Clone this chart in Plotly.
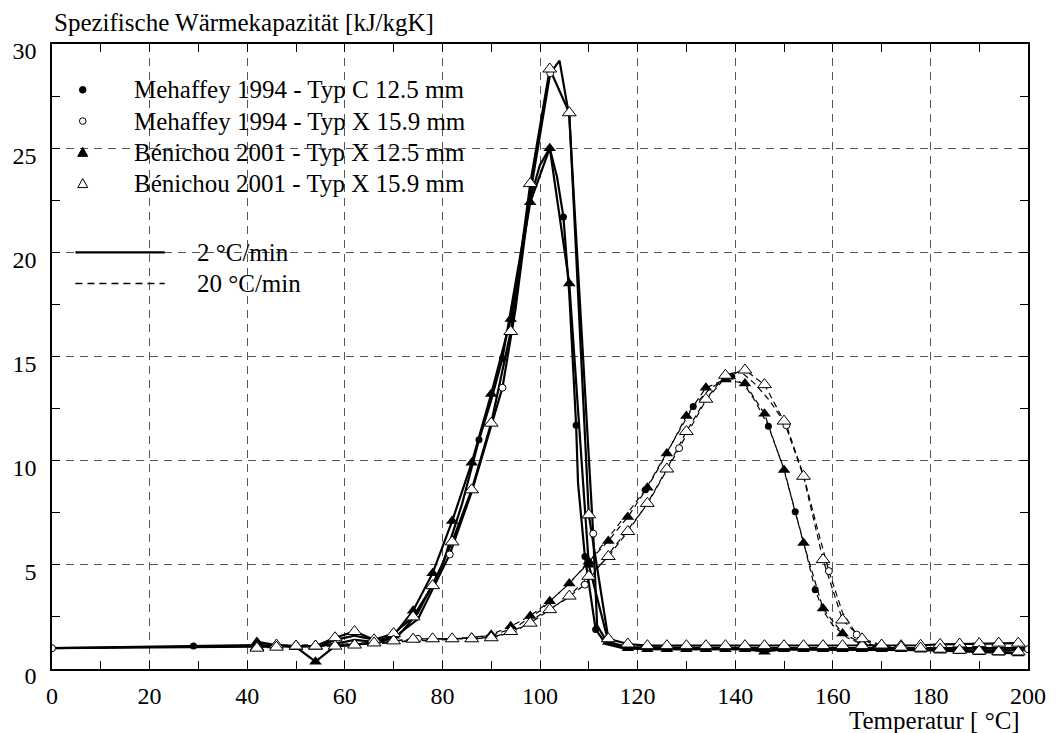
import plotly.graph_objects as go

# ---------------- data ----------------
# Benichou 2001: one point every 4 °C
ben_T = [42, 46, 50, 54, 58, 62, 66, 70, 74, 78, 82, 86, 90, 94, 98, 102, 106, 110, 114, 118,
         122, 126, 130, 134, 138, 142, 146, 150, 154, 158, 162, 166, 170, 174, 178, 182, 186, 190, 194, 198]
ben_x125_2 = [1.3, 1.15, 1.05, 0.35, 1.1, 1.15, 1.3, 1.6, 2.8, 4.6, 7.1, 9.9, 13.2, 16.8, 22.4, 25.0, 18.5, 5.0, 1.3, 1.0,
              0.95, 0.95, 0.95, 0.95, 0.95, 0.95, 0.83, 0.95, 0.95, 0.95, 0.95, 0.95, 0.95, 0.95, 0.92, 0.88, 0.85, 0.8, 0.78, 0.75]
ben_x159_2 = [1.05, 1.15, 1.1, 1.1, 1.5, 1.8, 1.4, 1.7, 2.5, 4.0, 6.1, 8.6, 11.8, 16.2, 23.3, 28.8, 26.7, 7.4, 1.45, 1.2,
              1.12, 1.12, 1.12, 1.12, 1.12, 1.12, 1.12, 1.12, 1.12, 1.12, 1.12, 1.12, 1.12, 1.12, 1.14, 1.18, 1.2, 1.22, 1.24, 1.24]
ben_x125_20 = [1.2, 1.1, 1.1, 1.1, 1.15, 1.2, 1.3, 1.35, 1.45, 1.45, 1.45, 1.5, 1.65, 2.05, 2.55, 3.25, 4.1, 5.15, 6.15, 7.3,
               8.7, 10.35, 12.15, 13.5, 13.9, 13.7, 12.25, 9.55, 6.05, 2.9, 1.7, 1.25, 1.05, 1.0, 0.95, 0.92, 0.88, 0.85, 0.82, 0.8]
ben_x159_20 = [1.0, 1.05, 1.1, 1.1, 1.1, 1.15, 1.25, 1.35, 1.43, 1.45, 1.45, 1.45, 1.5, 1.8, 2.2, 2.85, 3.5, 4.45, 5.4, 6.6,
               7.95, 9.6, 11.4, 12.95, 14.1, 14.35, 13.65, 11.9, 9.25, 5.25, 2.35, 1.45, 1.15, 1.05, 1.0, 0.95, 0.9, 0.86, 0.83, 0.82]

# Mehaffey 1994: curve points, markers only at some of them
meh_c2_T = [0, 29, 42, 50, 55, 58, 62, 65, 68, 71, 75, 80, 84, 87.5, 90, 92.3, 95, 98, 100, 102,
            103.5, 104.8, 106, 107.4, 107.8, 109.2, 111.4, 113.5, 117, 125, 140, 160, 180, 200]
meh_c2_cp = [1.0, 1.1, 1.15, 1.1, 1.1, 1.4, 1.6, 1.45, 1.35, 1.6, 2.7, 5.0, 7.9, 11.0, 12.9, 14.9, 18.5, 22.6, 24.2, 25.0,
             23.6, 21.7, 18.0, 11.7, 8.9, 5.4, 1.9, 1.2, 1.0, 0.95, 0.95, 0.92, 0.9, 0.9]
meh_c2_mk = [29, 87.5, 92.3, 104.8, 107.4, 109.2, 111.4]

meh_x2_T = [0, 29, 42, 55, 60, 62, 66, 70, 75, 81.5, 86, 90, 92.3, 95, 98, 102.1, 104, 106, 108.7, 110.9,
            111.7, 113.7, 118, 130, 150, 170, 200]
meh_x2_cp = [1.0, 1.05, 1.1, 1.1, 1.3, 1.4, 1.3, 1.5, 2.4, 5.5, 8.5, 11.6, 13.5, 17.3, 22.8, 28.6, 29.2, 26.5, 15.8, 6.5,
             2.1, 1.3, 1.05, 1.0, 1.0, 1.0, 1.0]
meh_x2_mk = [0, 81.5, 92.3, 102.1, 110.9]

meh_c20_T = [0, 29, 42, 60, 70, 80, 90, 95, 100, 105, 109.2, 115, 121.6, 126, 131.4, 135, 139.3, 142, 144, 146.8,
             150, 152.3, 154, 156.4, 158, 160, 163, 166, 170, 180, 200]
meh_c20_cp = [1.0, 1.05, 1.1, 1.2, 1.3, 1.4, 1.6, 2.0, 2.8, 3.9, 4.9, 6.6, 8.6, 10.4, 12.6, 13.5, 14.05, 13.6, 12.9, 11.65,
              9.6, 7.55, 6.1, 3.8, 2.8, 2.1, 1.5, 1.2, 1.0, 0.95, 0.9]
meh_c20_mk = [121.6, 131.4, 139.3, 146.8, 152.3, 156.4]

meh_x20_T = [0, 29, 42, 60, 70, 75, 80, 90, 95, 100, 105, 109.2, 115, 122, 128.5, 134, 138, 141, 144, 147,
             150.5, 154, 157, 159.2, 162, 164.9, 168, 175, 200]
meh_x20_cp = [1.0, 1.05, 1.1, 1.15, 1.25, 1.45, 1.45, 1.5, 1.8, 2.6, 3.3, 4.05, 5.8, 7.9, 10.6, 12.9, 14.0, 14.3, 13.7, 12.9,
              11.7, 9.3, 6.6, 4.7, 2.7, 1.65, 1.2, 1.0, 0.95]
meh_x20_mk = [75, 109.2, 128.5, 150.5, 159.2, 164.9, 200]

legend_labels = ["Mehaffey 1994 - Typ C 12.5 mm", "Mehaffey 1994 - Typ X 15.9 mm",
                 "Bénichou 2001 - Typ X 12.5 mm", "Bénichou 2001 - Typ X 15.9 mm"]
rate_labels = ["2 °C/min", "20 °C/min"]
x_title = "Temperatur [ °C]"
y_title = "Spezifische Wärmekapazität [kJ/kgK]"

# ---------------- styles ----------------
FONT = "Liberation Serif, Times New Roman, serif"
SOLID = dict(color="black", width=2.2)
DASH = dict(color="black", width=1.2, dash="6px,4px")
M_FC = dict(symbol="circle", size=7, color="black")
M_OC = dict(symbol="circle", size=7, color="white", line=dict(color="black", width=1))
M_FT = dict(symbol="triangle-up", size=11, color="black")
M_OT = dict(symbol="triangle-up", size=12, color="white", line=dict(color="black", width=1))

fig = go.Figure()

def pick(T, cp, sel):
    d = dict(zip(T, cp))
    return sel, [d[t] for t in sel]

# lines first
line_sets = [
    (meh_c2_T, meh_c2_cp, SOLID), (meh_x2_T, meh_x2_cp, SOLID),
    (ben_T, ben_x125_2, SOLID), (ben_T, ben_x159_2, SOLID),
    (meh_c20_T, meh_c20_cp, DASH), (meh_x20_T, meh_x20_cp, DASH),
    (ben_T, ben_x125_20, DASH), (ben_T, ben_x159_20, DASH),
]
for T, cp, ln in line_sets:
    fig.add_trace(go.Scatter(x=T, y=cp, mode="lines", line=ln, showlegend=False, hoverinfo="skip"))

# markers on top
marker_sets = [
    (pick(meh_c2_T, meh_c2_cp, meh_c2_mk), M_FC),
    (pick(meh_c20_T, meh_c20_cp, meh_c20_mk), M_FC),
    (pick(meh_x2_T, meh_x2_cp, meh_x2_mk), M_OC),
    (pick(meh_x20_T, meh_x20_cp, meh_x20_mk), M_OC),
    ((ben_T, ben_x125_2), M_FT),
    ((ben_T, ben_x125_20), M_FT),
    ((ben_T, ben_x159_2), M_OT),
    ((ben_T, ben_x159_20), M_OT),
]
for (T, cp), mk in marker_sets:
    fig.add_trace(go.Scatter(x=T, y=cp, mode="markers", marker=mk, showlegend=False))

# ---------------- manual legend ----------------
TXT = dict(family=FONT, size=25, color="black")
shapes = []
annotations = []
rows_y = [27.8, 26.3, 24.8, 23.3]
mx, tx = 6.3, 16.3
glyphs = ["fc", "oc", "ft", "ot"]
for yy, g, lab in zip(rows_y, glyphs, legend_labels):
    if g in ("fc", "oc"):
        shapes.append(dict(type="circle", xref="x", yref="y", xsizemode="pixel", ysizemode="pixel",
                           xanchor=mx, yanchor=yy, x0=-3.3, x1=3.3, y0=-3.3, y1=3.3,
                           fillcolor="black" if g == "fc" else "white",
                           line=dict(color="black", width=1)))
    else:
        shapes.append(dict(type="path", xref="x", yref="y", xsizemode="pixel", ysizemode="pixel",
                           xanchor=mx, yanchor=yy, path="M -5 -4 L 5 -4 L 0 5 Z",
                           fillcolor="black" if g == "ft" else "white",
                           line=dict(color="black", width=1)))
    annotations.append(dict(x=tx, y=yy, xref="x", yref="y", text=lab, showarrow=False,
                            xanchor="left", yanchor="middle", font=TXT))

for yy, solid, lab in zip([20.0, 18.5], [True, False], rate_labels):
    shapes.append(dict(type="line", xref="x", yref="y", x0=4.8, x1=23.1, y0=yy, y1=yy,
                       line=dict(color="black", width=2.2 if solid else 1.5,
                                 dash="solid" if solid else "7px,5px")))
    annotations.append(dict(x=29.3, y=yy, xref="x", yref="y", text=lab, showarrow=False,
                            xanchor="left", yanchor="middle", font=TXT))

annotations.append(dict(x=0, y=1.035, xref="paper", yref="paper", text=y_title, showarrow=False,
                        xanchor="left", yanchor="middle", font=TXT))
annotations.append(dict(x=0.994, y=-0.082, xref="paper", yref="paper", text=x_title, showarrow=False,
                        xanchor="right", yanchor="middle", font=TXT))

axis_common = dict(showline=True, linecolor="black", linewidth=1.5, mirror="ticks",
                   ticks="inside", ticklen=8, tickcolor="black", tickwidth=1,
                   showgrid=True, gridcolor="#555555", gridwidth=1, griddash="8px,6px",
                   zeroline=False, tickfont=dict(family=FONT, size=24, color="black"))

fig.update_layout(
    width=1058, height=733,
    margin=dict(l=52, r=22, t=44, b=64),
    paper_bgcolor="white", plot_bgcolor="white",
    showlegend=False,
    shapes=shapes, annotations=annotations,
    xaxis=dict(range=[0, 200], dtick=20, tick0=0, ticklabelstandoff=4,
               minor=dict(dtick=10, ticks="inside", ticklen=8, tickcolor="black", showgrid=False),
               **axis_common),
    yaxis=dict(range=[0, 30], dtick=5, tick0=0, ticklabelshift=7, ticklabelstandoff=9,
               minor=dict(dtick=2.5, ticks="inside", ticklen=8, tickcolor="black", showgrid=False),
               **axis_common),
)

fig.write_html("out.html")
